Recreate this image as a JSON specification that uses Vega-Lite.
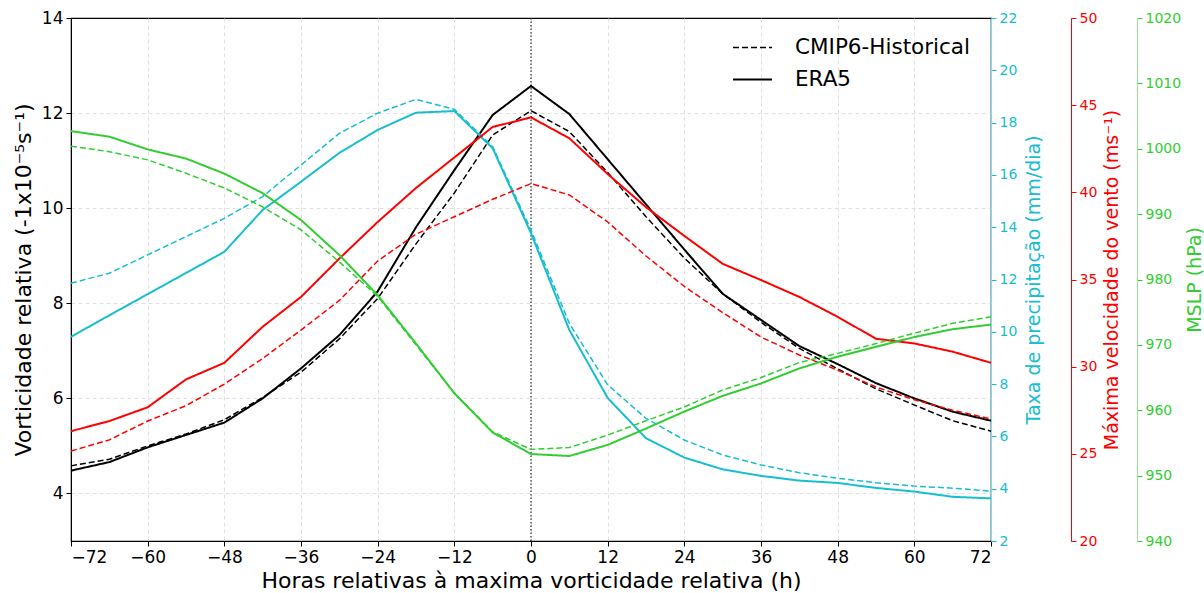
{
  "$schema": "https://vega.github.io/schema/vega-lite/v6.json",
  "width": 920,
  "height": 523,
  "autosize": {"type": "none"},
  "padding": {"left": 71, "top": 18, "right": 213, "bottom": 52},
  "background": "white",
  "config": {
    "font": "DejaVu Sans",
    "view": {"stroke": "black", "strokeWidth": 1.2},
    "axis": {
      "labelFont": "DejaVu Sans",
      "titleFont": "DejaVu Sans",
      "titleFontWeight": "normal",
      "tickSize": 5,
      "labelPadding": 3,
      "gridColor": "#d9d9d9",
      "gridDash": [4, 3],
      "gridWidth": 0.8,
      "domainColor": "black",
      "tickColor": "black",
      "labelColor": "black",
      "titleColor": "black"
    },
    "legend": {
      "orient": "none",
      "legendX": 661,
      "legendY": 9,
      "padding": 0,
      "labelFont": "DejaVu Sans",
      "labelFontSize": 21.5,
      "labelColor": "black",
      "labelLimit": 0,
      "symbolType": "stroke",
      "symbolSize": 1520,
      "symbolStrokeColor": "black",
      "symbolStrokeWidth": 1.5,
      "labelOffset": 22,
      "rowPadding": 1
    }
  },
  "datasets": {
    "d": [
      {"h": -72, "set": "ERA5", "vort": 4.48, "precip": 9.81, "wind": 26.3, "mslp": 1002.7},
      {"h": -66, "set": "ERA5", "vort": 4.66, "precip": 10.63, "wind": 26.88, "mslp": 1001.85},
      {"h": -60, "set": "ERA5", "vort": 4.97, "precip": 11.44, "wind": 27.67, "mslp": 999.9},
      {"h": -54, "set": "ERA5", "vort": 5.23, "precip": 12.25, "wind": 29.27, "mslp": 998.5},
      {"h": -48, "set": "ERA5", "vort": 5.49, "precip": 13.06, "wind": 30.22, "mslp": 996.2},
      {"h": -42, "set": "ERA5", "vort": 6.0, "precip": 14.66, "wind": 32.29, "mslp": 993.2},
      {"h": -36, "set": "ERA5", "vort": 6.63, "precip": 15.74, "wind": 34.0, "mslp": 989.1},
      {"h": -30, "set": "ERA5", "vort": 7.33, "precip": 16.84, "wind": 36.2, "mslp": 983.75},
      {"h": -24, "set": "ERA5", "vort": 8.25, "precip": 17.72, "wind": 38.3, "mslp": 977.6},
      {"h": -18, "set": "ERA5", "vort": 9.6, "precip": 18.38, "wind": 40.25, "mslp": 970.2},
      {"h": -12, "set": "ERA5", "vort": 10.8, "precip": 18.44, "wind": 42.0, "mslp": 962.6},
      {"h": -6, "set": "ERA5", "vort": 11.96, "precip": 17.02, "wind": 43.75, "mslp": 956.6},
      {"h": 0, "set": "ERA5", "vort": 12.57, "precip": 13.77, "wind": 44.3, "mslp": 953.3},
      {"h": 6, "set": "ERA5", "vort": 11.98, "precip": 10.07, "wind": 43.1, "mslp": 953.0},
      {"h": 12, "set": "ERA5", "vort": 11.03, "precip": 7.47, "wind": 41.05, "mslp": 954.7},
      {"h": 18, "set": "ERA5", "vort": 10.08, "precip": 5.93, "wind": 39.15, "mslp": 957.2},
      {"h": 24, "set": "ERA5", "vort": 9.13, "precip": 5.19, "wind": 37.5, "mslp": 959.8},
      {"h": 30, "set": "ERA5", "vort": 8.2, "precip": 4.74, "wind": 35.9, "mslp": 962.2},
      {"h": 36, "set": "ERA5", "vort": 7.65, "precip": 4.49, "wind": 34.97, "mslp": 964.1},
      {"h": 42, "set": "ERA5", "vort": 7.1, "precip": 4.31, "wind": 34.0, "mslp": 966.4},
      {"h": 48, "set": "ERA5", "vort": 6.72, "precip": 4.22, "wind": 32.86, "mslp": 968.2},
      {"h": 54, "set": "ERA5", "vort": 6.32, "precip": 4.03, "wind": 31.6, "mslp": 969.7},
      {"h": 60, "set": "ERA5", "vort": 6.0, "precip": 3.89, "wind": 31.33, "mslp": 971.2},
      {"h": 66, "set": "ERA5", "vort": 5.72, "precip": 3.69, "wind": 30.86, "mslp": 972.4},
      {"h": 72, "set": "ERA5", "vort": 5.53, "precip": 3.63, "wind": 30.22, "mslp": 973.1},
      {"h": -72, "set": "CMIP6-Historical", "vort": 4.58, "precip": 11.86, "wind": 25.16, "mslp": 1000.4},
      {"h": -66, "set": "CMIP6-Historical", "vort": 4.72, "precip": 12.24, "wind": 25.8, "mslp": 999.55},
      {"h": -60, "set": "CMIP6-Historical", "vort": 5.0, "precip": 12.94, "wind": 26.88, "mslp": 998.3},
      {"h": -54, "set": "CMIP6-Historical", "vort": 5.25, "precip": 13.64, "wind": 27.76, "mslp": 996.25},
      {"h": -48, "set": "CMIP6-Historical", "vort": 5.55, "precip": 14.34, "wind": 29.0, "mslp": 994.0},
      {"h": -42, "set": "CMIP6-Historical", "vort": 6.02, "precip": 15.17, "wind": 30.47, "mslp": 991.1},
      {"h": -36, "set": "CMIP6-Historical", "vort": 6.55, "precip": 16.38, "wind": 32.1, "mslp": 987.6},
      {"h": -30, "set": "CMIP6-Historical", "vort": 7.25, "precip": 17.59, "wind": 33.8, "mslp": 982.7},
      {"h": -24, "set": "CMIP6-Historical", "vort": 8.1, "precip": 18.36, "wind": 36.06, "mslp": 977.4},
      {"h": -18, "set": "CMIP6-Historical", "vort": 9.25, "precip": 18.89, "wind": 37.6, "mslp": 970.0},
      {"h": -12, "set": "CMIP6-Historical", "vort": 10.32, "precip": 18.51, "wind": 38.6, "mslp": 962.6},
      {"h": -6, "set": "CMIP6-Historical", "vort": 11.54, "precip": 17.08, "wind": 39.6, "mslp": 956.7},
      {"h": 0, "set": "CMIP6-Historical", "vort": 12.05, "precip": 13.89, "wind": 40.5, "mslp": 954.0},
      {"h": 6, "set": "CMIP6-Historical", "vort": 11.61, "precip": 10.32, "wind": 39.85, "mslp": 954.3},
      {"h": 12, "set": "CMIP6-Historical", "vort": 10.75, "precip": 7.97, "wind": 38.3, "mslp": 956.2},
      {"h": 18, "set": "CMIP6-Historical", "vort": 9.82, "precip": 6.69, "wind": 36.35, "mslp": 958.4},
      {"h": 24, "set": "CMIP6-Historical", "vort": 8.95, "precip": 5.86, "wind": 34.6, "mslp": 960.5},
      {"h": 30, "set": "CMIP6-Historical", "vort": 8.2, "precip": 5.29, "wind": 33.1, "mslp": 963.1},
      {"h": 36, "set": "CMIP6-Historical", "vort": 7.6, "precip": 4.91, "wind": 31.7, "mslp": 965.0},
      {"h": 42, "set": "CMIP6-Historical", "vort": 7.05, "precip": 4.61, "wind": 30.67, "mslp": 967.3},
      {"h": 48, "set": "CMIP6-Historical", "vort": 6.62, "precip": 4.4, "wind": 29.8, "mslp": 968.7},
      {"h": 54, "set": "CMIP6-Historical", "vort": 6.2, "precip": 4.23, "wind": 28.83, "mslp": 970.2},
      {"h": 60, "set": "CMIP6-Historical", "vort": 5.86, "precip": 4.1, "wind": 28.1, "mslp": 971.8},
      {"h": 66, "set": "CMIP6-Historical", "vort": 5.53, "precip": 4.02, "wind": 27.5, "mslp": 973.3},
      {"h": 72, "set": "CMIP6-Historical", "vort": 5.31, "precip": 3.91, "wind": 27.0, "mslp": 974.3}
    ]
  },
  "data": {"name": "d"},
  "encoding": {
    "x": {
      "field": "h",
      "type": "quantitative",
      "scale": {"domain": [-72, 72], "nice": false, "zero": false},
      "axis": {
        "values": [-72, -60, -48, -36, -24, -12, 0, 12, 24, 36, 48, 60, 72],
        "title": "Horas relativas à maxima vorticidade relativa (h)",
        "titleFontSize": 22,
        "labelFontSize": 17,
        "titlePadding": 5,
        "grid": true,
        "gridOpacity": {"condition": {"test": "datum.value == -72 || datum.value == 72", "value": 0}, "value": 1}
      }
    }
  },
  "layer": [
    {
      "data": {"values": [{"h": 0}]},
      "mark": {"type": "rule", "color": "black", "strokeDash": [1.5, 2], "strokeWidth": 1}
    },
    {
      "mark": {"type": "line", "color": "black"},
      "encoding": {
        "y": {
          "field": "vort",
          "type": "quantitative",
          "scale": {"domain": [3, 14], "nice": false, "zero": false},
          "axis": {
            "orient": "left",
            "values": [4, 6, 8, 10, 12, 14],
            "title": "Vorticidade relativa (-1x10⁻⁵s⁻¹)",
            "titleFontSize": 22,
            "labelFontSize": 17,
            "titlePadding": 6,
            "grid": true,
            "gridOpacity": {"condition": {"test": "datum.value == 14", "value": 0}, "value": 1}
          }
        },
        "strokeDash": {
          "field": "set",
          "type": "nominal",
          "scale": {"domain": ["CMIP6-Historical", "ERA5"], "range": [[6, 3], [1, 0]]},
          "legend": {"title": null}
        },
        "strokeWidth": {
          "field": "set",
          "type": "nominal",
          "scale": {"domain": ["CMIP6-Historical", "ERA5"], "range": [1.5, 2]},
          "legend": null
        }
      }
    },
    {
      "mark": {"type": "line", "color": "#17becf"},
      "encoding": {
        "y": {
          "field": "precip",
          "type": "quantitative",
          "scale": {"domain": [2, 22], "nice": false, "zero": false},
          "axis": {
            "orient": "right",
            "values": [2, 4, 6, 8, 10, 12, 14, 16, 18, 20, 22],
            "title": "Taxa de precipitação (mm/dia)",
            "titleFontSize": 19,
            "labelFontSize": 14,
            "titleColor": "#17becf",
            "labelColor": "#17becf",
            "tickColor": "#17becf",
            "domainColor": "#7fdbe6",
            "titleAngle": 270,
            "titleBaseline": "top",
            "titlePadding": 8,
            "grid": false
          }
        },
        "strokeDash": {"field": "set", "type": "nominal"},
        "strokeWidth": {"field": "set", "type": "nominal", "legend": null}
      }
    },
    {
      "mark": {"type": "line", "color": "#ff0000"},
      "encoding": {
        "y": {
          "field": "wind",
          "type": "quantitative",
          "scale": {"domain": [20, 50], "nice": false, "zero": false},
          "axis": {
            "orient": "right",
            "offset": 80,
            "values": [20, 25, 30, 35, 40, 45, 50],
            "title": "Máxima velocidade do vento (ms⁻¹)",
            "titleFontSize": 19,
            "labelFontSize": 14,
            "titleColor": "#ff0000",
            "labelColor": "#ff0000",
            "tickColor": "#ff0000",
            "domainColor": "#ff0000",
            "titleAngle": 270,
            "titleBaseline": "top",
            "titlePadding": 6,
            "grid": false
          }
        },
        "strokeDash": {"field": "set", "type": "nominal"},
        "strokeWidth": {"field": "set", "type": "nominal", "legend": null}
      }
    },
    {
      "mark": {"type": "line", "color": "#32cd32"},
      "encoding": {
        "y": {
          "field": "mslp",
          "type": "quantitative",
          "scale": {"domain": [940, 1020], "nice": false, "zero": false},
          "axis": {
            "orient": "right",
            "offset": 146,
            "values": [940, 950, 960, 970, 980, 990, 1000, 1010, 1020],
            "format": "d",
            "title": "MSLP (hPa)",
            "titleFontSize": 19,
            "labelFontSize": 14,
            "titleColor": "#32cd32",
            "labelColor": "#32cd32",
            "tickColor": "#32cd32",
            "domainColor": "#93e493",
            "titleAngle": 270,
            "titleBaseline": "top",
            "titlePadding": 5,
            "grid": false
          }
        },
        "strokeDash": {"field": "set", "type": "nominal"},
        "strokeWidth": {"field": "set", "type": "nominal", "legend": null}
      }
    }
  ],
  "resolve": {"scale": {"y": "independent"}, "axis": {"y": "independent"}}
}
